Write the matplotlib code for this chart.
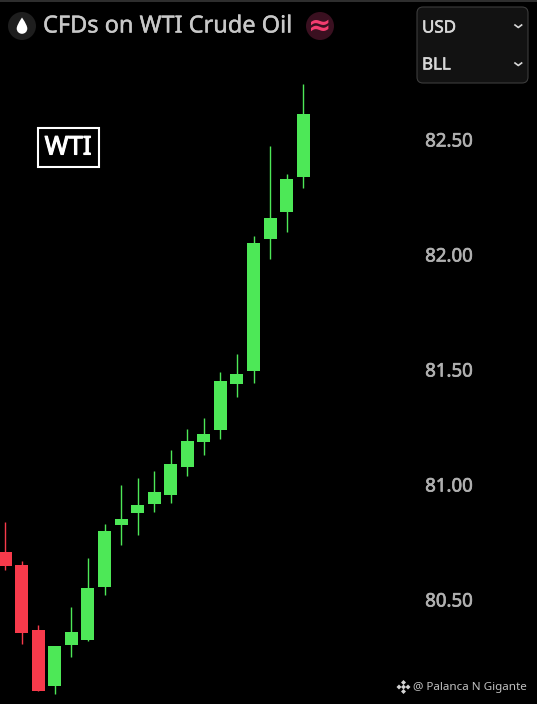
import matplotlib
matplotlib.use('Agg')
import matplotlib.pyplot as plt
import matplotlib.patheffects as pe
from matplotlib.patches import Circle, FancyBboxPatch, PathPatch, Polygon, Rectangle
from matplotlib.path import Path

plt.rcParams['font.family'] = ['Noto Sans', 'DejaVu Sans']

# Candle values
opens = [80.707, 80.650, 80.367, 80.124, 80.302, 80.324, 80.554, 80.824, 80.876, 80.915,
         80.954, 81.076, 81.185, 81.237, 81.437, 81.493, 82.067, 82.185, 82.337]
closes = [80.646, 80.354, 80.102, 80.298, 80.359, 80.550, 80.798, 80.850, 80.911, 80.967,
          81.089, 81.189, 81.220, 81.450, 81.480, 82.050, 82.159, 82.328, 82.611]
highs = [80.837, 80.667, 80.389, 80.298, 80.467, 80.680, 80.828, 80.998, 81.028, 81.059,
         81.150, 81.241, 81.289, 81.489, 81.567, 82.080, 82.472, 82.350, 82.741]
lows = [80.628, 80.307, 80.102, 80.089, 80.250, 80.320, 80.520, 80.737, 80.780, 80.880,
        80.920, 81.037, 81.128, 81.198, 81.380, 81.441, 81.980, 82.098, 82.289]
price_ticks = [80.5, 81.0, 81.5, 82.0, 82.5]

UP = '#4de857'
DOWN = '#f73a4b'


def heavier(width, color):
    # no bold face in the sans family here, so thicken with a thin stroke
    return [pe.withStroke(linewidth=width, foreground=color)]


fig = plt.figure(figsize=(5.37, 7.04), dpi=100, facecolor='black')

# Price chart fills the whole figure
ax = fig.add_axes([0, 0, 1, 1], facecolor='black')
for i in range(len(opens)):
    color = UP if closes[i] >= opens[i] else DOWN
    ax.vlines(i, lows[i], highs[i], color=color, linewidth=1.0)
    ax.bar(i, abs(closes[i] - opens[i]), bottom=min(opens[i], closes[i]), width=0.785, color=color)

ax.set_xlim(-5.2 / 16.556, (537 - 5.2) / 16.556)
ax.set_ylim(82.5 - (704 - 139.5) / 230, 82.5 + 139.5 / 230)
for spine in ax.spines.values():
    spine.set_visible(False)
ax.set_xticks([])
ax.yaxis.tick_right()
ax.set_yticks(price_ticks)
ax.set_yticklabels([f'{p:.2f}' for p in price_ticks])
ax.tick_params(axis='y', length=0, pad=-80.5, labelsize=13.4, labelcolor='#b0b0b0')
for label in ax.get_yticklabels():
    label.set_path_effects(heavier(0.5, '#b0b0b0'))

# Overlay in pixel coordinates for header, boxes and icons
ov = fig.add_axes([0, 0, 1, 1], facecolor='none')
ov.set_xlim(0, 537)
ov.set_ylim(704, 0)
ov.axis('off')

ov.add_patch(Rectangle((0, 0), 537, 1.5, color='#2e2e2e', lw=0))

# Oil drop icon
ov.add_patch(Circle((22, 26), 14, color='#1e1e1e', lw=0))
drop = Path([(22, 17.5), (18, 23.5), (16.7, 26.5), (16.7, 28.5), (16.7, 31.5), (19, 33.8), (22, 33.8),
             (25, 33.8), (27.3, 31.5), (27.3, 28.5), (27.3, 26.5), (26, 23.5), (22, 17.5)],
            [Path.MOVETO] + [Path.CURVE4] * 12)
ov.add_patch(PathPatch(drop, facecolor='white', lw=0))

ov.text(43, 26.5, 'CFDs on WTI Crude Oil', color='#c8c8c8', fontsize=16.95, va='center', ha='left',
        path_effects=heavier(0.3, '#c8c8c8'))

# Currency sign icon
ov.add_patch(Circle((320, 26), 14, color='#3a1020', lw=0))
ov.text(320, 26, '≈', color='#f23d6f', fontsize=20, va='center', ha='center',
        family='DejaVu Sans', fontweight='bold')

# WTI label box
ov.add_patch(Rectangle((37.5, 127.5), 61, 39, facecolor='black', edgecolor='white', lw=1.5))
ov.text(68, 148, 'WTI', color='white', fontsize=18.5, va='center', ha='center',
        path_effects=heavier(0.8, 'white'))

# Currency and unit selectors
ov.add_patch(FancyBboxPatch((421, 11), 103, 68, boxstyle='round,pad=4,rounding_size=6',
                            facecolor='#121212', edgecolor='#3c3c3c', lw=0.8))
ov.text(422, 28.5, 'USD', color='#d8d8d8', fontsize=12.2, va='center', ha='left',
        path_effects=heavier(0.4, '#d8d8d8'))
ov.text(422, 65.5, 'BLL', color='#d8d8d8', fontsize=12.2, va='center', ha='left',
        path_effects=heavier(0.4, '#d8d8d8'))
for cy in [26.5, 64.5]:
    ov.plot([515, 518.3, 521.6], [cy - 1.5, cy + 1, cy - 1.5], color='#d8d8d8', lw=1.2)

# Watermark
cx, cy = 403.5, 687
for dx, dy in [(0, -4.5), (4.5, 0), (0, 4.5), (-4.5, 0), (0, 0)]:
    ov.add_patch(Polygon([(cx + dx, cy + dy - 2.5), (cx + dx + 2.5, cy + dy),
                          (cx + dx, cy + dy + 2.5), (cx + dx - 2.5, cy + dy)],
                         closed=True, facecolor='#d4d4d4', lw=0))
ov.text(413, 687.5, '@ Palanca N Gigante', color='#c0c0c0', fontsize=8.4, va='center', ha='left')

fig.savefig('out.png', dpi=100, facecolor='black')
